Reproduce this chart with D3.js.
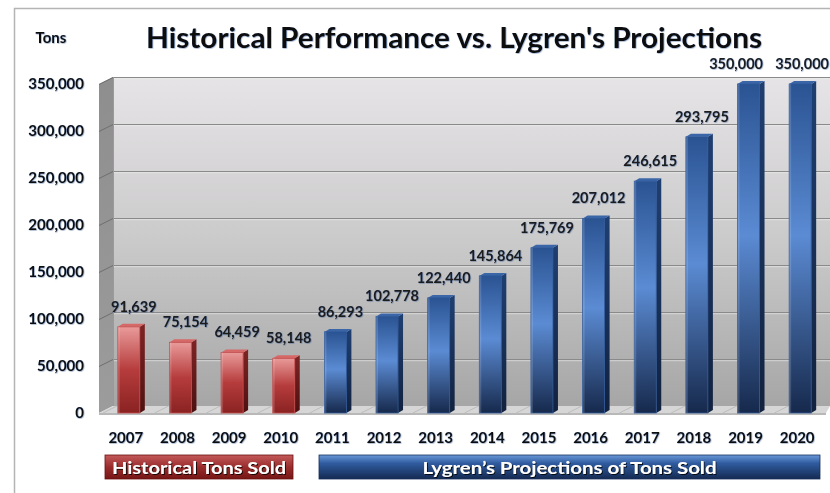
<!DOCTYPE html>
<html><head><meta charset="utf-8">
<script src="https://cdn.jsdelivr.net/npm/d3@7"></script>
<style>
html,body{margin:0;padding:0;background:#fff;}
svg{display:block;font-family:Lato,"Open Sans",sans-serif;}
</style></head>
<body>
<svg id="c" width="830" height="493"></svg>
<script>
const years = ['2007','2008','2009','2010','2011','2012','2013','2014','2015','2016','2017','2018','2019','2020'];
const tons = [91639, 75154, 64459, 58148, 86293, 102778, 122440, 145864, 175769, 207012, 246615, 293795, 350000, 350000];
const seriesOf = ['hist','hist','hist','hist','proj','proj','proj','proj','proj','proj','proj','proj','proj','proj'];
const yTicks = [0, 50000, 100000, 150000, 200000, 250000, 300000, 350000];
const legendLabels = ['Historical Tons Sold', 'Lygren\u2019s Projections of Tons Sold'];
const titleText = "Historical Performance vs. Lygren's Projections";
const yTitle = 'Tons';

const svg = d3.select('#c');
const defs = svg.append('defs');
const fmt = d3.format(',');

function lg(id, stops, x2, y2){
  const g = defs.append('linearGradient').attr('id', id).attr('x1',0).attr('y1',0).attr('x2',x2).attr('y2',y2);
  stops.forEach(s=>g.append('stop').attr('offset',s[0]).attr('stop-color',s[1]));
}
lg('wall', [[0,'#e6e4e6'],[0.5,'#cbcacb'],[1,'#a6a6a6']],0,1);
lg('side', [[0,'#8e8e8e'],[1,'#9c9c9c']],0,1);
lg('histFront', [[0,'#e99a9a'],[0.5,'#b63c3c'],[1,'#8a2222']],0,1);
lg('histSide', [[0,'#7e2424'],[1,'#4f1010']],0,1);
lg('projFront', [[0,'#2a5392'],[0.46,'#5b8bd3'],[1,'#16294c']],0,1);
lg('projSide', [[0,'#1f3f72'],[1,'#12223f']],0,1);
lg('legRed', [[0,'#c45a5a'],[0.5,'#9a2c2c'],[1,'#761616']],0,1);
lg('legBlue', [[0,'#6a98d8'],[0.35,'#2f5b9e'],[1,'#142a52']],0,1);

const f = defs.append('filter').attr('id','glow').attr('x','-10%').attr('y','-30%').attr('width','120%').attr('height','160%');
f.append('feDropShadow').attr('dx',0.6).attr('dy',0.6).attr('stdDeviation',0.7).attr('flood-color','#2a4f8a').attr('flood-opacity',0.55);
const f2 = defs.append('filter').attr('id','tshadow').attr('x','-10%').attr('y','-30%').attr('width','120%').attr('height','160%');
f2.append('feDropShadow').attr('dx',1).attr('dy',1).attr('stdDeviation',0.6).attr('flood-color','#000').attr('flood-opacity',0.8);

// outer frame
svg.append('path').attr('d','M14.5,493 L14.5,8.5 L830,8.5').attr('fill','none').attr('stroke','#b4b4b4').attr('stroke-width',1.5);

const x = d3.scaleBand().domain(years).range([103, 826]).paddingInner(0.574).paddingOuter(0.287);
const y = d3.scaleLinear().domain([0, 350000]).range([413, 84]);
const DX = 14, DY = -7;
const xL = 99, xR = 830;

// back wall
svg.append('rect').attr('x', xL+DX).attr('y', y(350000)+DY).attr('width', xR-(xL+DX)).attr('height', y(0)-y(350000)).attr('fill','url(#wall)');
// side wall
svg.append('path').attr('d', `M${xL},${y(350000)} L${xL+DX},${y(350000)+DY} L${xL+DX},${y(0)+DY} L${xL},${y(0)} Z`).attr('fill','url(#side)');
// floor
svg.append('path').attr('d', `M${xL},${y(0)} L${xL+DX},${y(0)+DY} L${xR},${y(0)+DY} L${xR-4},${y(0)} Z`).attr('fill','#d6d6d6');
svg.append('rect').attr('x',xL).attr('y',y(0)).attr('width',xR-4-xL).attr('height',2).attr('fill','#b8b8b8');
years.forEach(yr=>{
  const bx = x(yr) - x.step()*x.paddingInner()/2;
  svg.append('line').attr('x1',bx).attr('x2',bx+DX).attr('y1',y(0)).attr('y2',y(0)+DY).attr('stroke','#bdbdbd').attr('stroke-width',1);
});

// gridlines
const grid = svg.append('g');
yTicks.forEach(v=>{
  if (v===0) return;
  grid.append('line').attr('x1',xL+DX).attr('x2',xR).attr('y1',y(v)+DY+0.5).attr('y2',y(v)+DY+0.5).attr('stroke','#8a8a8a').attr('stroke-width',1.2);
  grid.append('line').attr('x1',xL+DX).attr('x2',xR).attr('y1',y(v)+DY+1.7).attr('y2',y(v)+DY+1.7).attr('stroke','#efefef').attr('stroke-width',0.8).attr('opacity',0.7);
  grid.append('line').attr('x1',xL).attr('x2',xL+DX).attr('y1',y(v)+0.5).attr('y2',y(v)+DY+0.5).attr('stroke','#6e6e6e').attr('stroke-width',1);
});
svg.append('line').attr('x1',xL+DX+0.5).attr('x2',xL+DX+0.5).attr('y1',y(350000)+DY).attr('y2',y(0)+DY).attr('stroke','#9a9a9a');

// bars
const bw = x.bandwidth(), bd = 5, bdy = -3;
const bars = svg.append('g');
years.forEach((yr,i)=>{
  const v = tons[i], s = seriesOf[i];
  const x0 = x(yr), yt = y(v), yb = y(0);
  const g = bars.append('g');
  g.append('path').attr('d', `M${x0+bw},${yt} L${x0+bw+bd},${yt+bdy} L${x0+bw+bd},${yb+bdy} L${x0+bw},${yb} Z`).attr('fill', `url(#${s}Side)`);
  g.append('path').attr('d', `M${x0},${yt} L${x0+bd},${yt+bdy} L${x0+bw+bd},${yt+bdy} L${x0+bw},${yt} Z`).attr('fill', s==='hist' ? '#d66868' : '#3a66a8');
  g.append('rect').attr('x', x0).attr('y', yt).attr('width', bw).attr('height', yb-yt).attr('fill', `url(#${s}Front)`)
    .attr('stroke', s==='hist' ? '#c44a4a' : '#2d5799').attr('stroke-width', 0.8);
  g.append('rect').attr('x', x0).attr('y', yt).attr('width', 2).attr('height', yb-yt).attr('fill', '#ffffff').attr('opacity', 0.15);
});

// data labels: centred over bars, kept inside the picture, equal neighbours spread apart
const labels = svg.append('g').selectAll('text').data(years).join('text')
  .attr('y', (d,i)=>y(tons[i])-15)
  .attr('text-anchor','middle').attr('font-size',14.5).attr('font-weight','bold').attr('fill','#1a1a1a')
  .attr('filter','url(#glow)')
  .text((d,i)=>fmt(tons[i]));
const widths = labels.nodes().map(n=>n.getComputedTextLength());
const lx = years.map((d,i)=>Math.min(x(d)+bw/2+5, 829 - widths[i]/2));
const minGap = 66;
for (let i = lx.length-2; i >= 0; i--) {
  if (tons[i] === tons[i+1] && lx[i+1]-lx[i] < minGap) lx[i] = lx[i+1]-minGap;
}
labels.attr('x', (d,i)=>lx[i]);

// y axis labels
svg.append('g').selectAll('text').data(yTicks).join('text')
  .attr('x', 84).attr('y', d=>y(d)+5).attr('text-anchor','end')
  .attr('font-size',15).attr('font-weight','bold').attr('fill','#111').attr('filter','url(#glow)')
  .text(d=>fmt(d));

// x axis labels
svg.append('g').selectAll('text').data(years).join('text')
  .attr('x', d=>x(d)+bw/2-3).attr('y', 443).attr('text-anchor','middle')
  .attr('font-size',15).attr('font-weight','bold').attr('fill','#111').attr('filter','url(#glow)')
  .text(d=>d);

// titles
svg.append('text').attr('x',51).attr('y',43).attr('text-anchor','middle').attr('font-size',15).attr('font-weight','bold').attr('fill','#111').attr('filter','url(#glow)').text(yTitle);
svg.append('text').attr('x',146).attr('y',48).attr('font-size',28).attr('font-weight','bold').attr('fill','#0a0a0a')
  .attr('textLength',616).attr('lengthAdjust','spacingAndGlyphs').attr('filter','url(#glow)').text(titleText);

// legend boxes
const legs = [
  {x0:105, x1:293, fill:'url(#legRed)', stroke:'#6a1010'},
  {x0:319, x1:820, fill:'url(#legBlue)', stroke:'#17305e'}
];
const tlen = [174, 294];
legs.forEach((l,i)=>{
  svg.append('rect').attr('x',l.x0).attr('y',455).attr('width',l.x1-l.x0).attr('height',24).attr('fill',l.fill).attr('stroke',l.stroke).attr('stroke-width',0.8);
  svg.append('text').attr('x',(l.x0+l.x1)/2 - (tlen[i])/2).attr('y',474).attr('font-size',17).attr('font-weight','bold').attr('fill','#fff')
    .attr('textLength',tlen[i]).attr('lengthAdjust','spacingAndGlyphs').attr('filter','url(#tshadow)').text(legendLabels[i]);
});
</script>
</body></html>
